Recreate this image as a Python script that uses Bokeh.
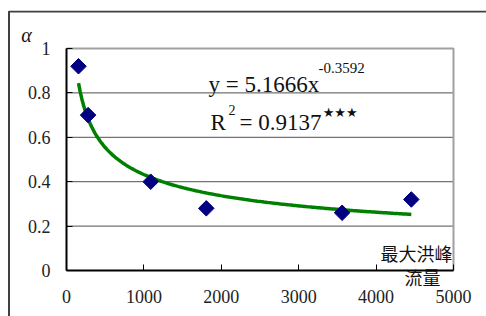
import numpy as np
from bokeh.plotting import figure
from bokeh.models import Label, FixedTicker, LinearAxis, ColumnDataSource
from bokeh.embed import file_html
from bokeh.resources import INLINE

# data
flood_x = [155, 279, 1088, 1806, 3561, 4455]
alpha_y = [0.92, 0.70, 0.40, 0.28, 0.26, 0.32]
coef_a = 5.1666
coef_b = -0.3592
x_ticks = [0, 1000, 2000, 3000, 4000, 5000]
x_tick_labels = ["0", "1000", "2000", "3000", "4000", "5000"]
y_ticks = [0, 0.2, 0.4, 0.6, 0.8, 1]
y_tick_labels = ["0", "0.2", "0.4", "0.6", "0.8", "1"]
eq_text = "y = 5.1666x"
eq_sup = "-0.3592"
r2_text = "= 0.9137"
stars = "★★★"
x_name_1 = "最大洪峰"
x_name_2 = "流量"
y_name = "α"

SERIF = "Liberation Serif"
CJK = "Noto Sans CJK TC"

# layout: the frame fills the canvas; axes are pinned at data 0 inside it
X0, X1 = -762.3, 5426.4
Y0, Y1 = -0.2072, 1.1712
PX_X = 0.0774   # px per x unit
PX_Y = 222.0    # px per y unit

p = figure(width=486, height=316,
           x_range=(X0, X1), y_range=(Y0, Y1),
           x_axis_location=None, y_axis_location=None,
           output_backend="svg", toolbar_location=None,
           min_border_left=7, min_border_top=10, min_border_right=0, min_border_bottom=0)
p.background_fill_color = "white"
p.border_fill_color = "white"
p.outline_line_color = None
p.grid.visible = False

# outer chart border (left and top sides only are visible)
bx = X0 + 1.5 / PX_X
by = Y1 - 1.0 / PX_Y
p.line([bx, bx, X1], [Y0, by, by], line_color="#404040", line_width=2)

# horizontal grid lines across the data area
grid_y = y_ticks[1:-1]
p.segment(x0=[x_ticks[0]] * len(grid_y), x1=[x_ticks[-1]] * len(grid_y),
          y0=grid_y, y1=grid_y, line_color="#505050", line_width=1)
# plot-area border (top and right)
p.line([x_ticks[0], x_ticks[-1], x_ticks[-1]], [y_ticks[-1], y_ticks[-1], y_ticks[0]],
       line_color="#a0a0a0", line_width=2)

xaxis = LinearAxis(fixed_location=0, bounds=(x_ticks[0], x_ticks[-1]),
                   ticker=FixedTicker(ticks=x_ticks))
xaxis.major_label_overrides = {t: l for t, l in zip(x_ticks, x_tick_labels)}
xaxis.major_label_standoff = 19
yaxis = LinearAxis(fixed_location=0, bounds=(y_ticks[0], y_ticks[-1]),
                   ticker=FixedTicker(ticks=y_ticks))
yaxis.major_label_overrides = {str(t): l for t, l in zip(y_ticks, y_tick_labels)}
yaxis.major_label_standoff = 16
for ax in (xaxis, yaxis):
    ax.axis_line_color = "black"
    ax.axis_line_width = 2
    ax.major_tick_in = 6
    ax.major_tick_out = 0
    ax.minor_tick_line_color = None
    ax.major_tick_line_color = "black"
    ax.major_tick_line_width = 1
    ax.major_label_text_font = SERIF
    ax.major_label_text_font_size = "18px"
    ax.major_label_text_color = "#222222"
p.add_layout(xaxis, "below")
p.add_layout(yaxis, "left")

# trend line from the fitted power law shown on the chart
xs = np.linspace(min(flood_x), max(flood_x), 200)
ys = coef_a * xs ** coef_b
p.line(xs, ys, line_color="#008000", line_width=3.5)

src = ColumnDataSource(dict(x=flood_x, y=alpha_y))
p.scatter("x", "y", source=src, marker="square", size=11, angle=np.pi / 4,
          fill_color="#000080", line_color="#000080")

def lab(x, y, text, size, font=SERIF, align="left", baseline="alphabetic", style="normal"):
    p.add_layout(Label(x=x, y=y, text=text, text_font=font, text_font_size=size,
                       text_align=align, text_baseline=baseline, text_color="#111111",
                       text_font_style=style))

lab(1835, 0.838, eq_text, "23px")
lab(3256, 0.914, eq_sup, "15px")
lab(1860, 0.667, "R", "23px")
lab(2093, 0.721, "2", "14px")
lab(2235, 0.667, r2_text, "23px")
lab(3310, 0.712, stars, "13px", font="DejaVu Sans")
lab(4522, 0.081, x_name_1, "18px", font=CJK, align="center", baseline="middle")
lab(4600, -0.0315, x_name_2, "18px", font=CJK, align="center", baseline="middle")
lab(-517, 1.063, y_name, "20px", align="center", baseline="middle", style="italic")

open("out.html", "w").write(file_html(p, INLINE))
